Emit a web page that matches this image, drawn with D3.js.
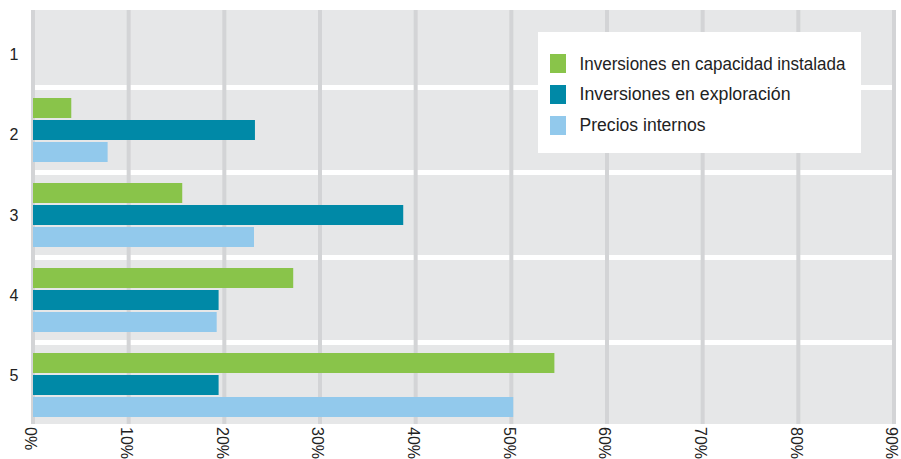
<!DOCTYPE html>
<html>
<head>
<meta charset="utf-8">
<script src="https://cdn.jsdelivr.net/npm/d3@7"></script>
<style>
  html, body { margin: 0; padding: 0; background: #ffffff; }
  svg { display: block; font-family: "Liberation Sans", Arial, Helvetica, sans-serif; }
</style>
</head>
<body>
<svg id="chart" width="901" height="459"></svg>
<script>
// ---- data ----
const categories = ["1", "2", "3", "4", "5"];
const seriesNames = ["Inversiones en capacidad instalada", "Inversiones en exploración", "Precios internos"];
const seriesColors = ["#89c44a", "#0089a7", "#92c9ec"];
const capacidadInstalada = [0, 4.0, 15.6, 27.2, 54.5];
const exploracion = [0, 23.2, 38.7, 19.4, 19.4];
const preciosInternos = [0, 7.8, 23.1, 19.2, 50.2];
const xTicks = [0, 10, 20, 30, 40, 50, 60, 70, 80, 90];
const xTickLabels = ["0%", "10%", "20%", "30%", "40%", "50%", "60%", "70%", "80%", "90%"];

const seriesValues = [capacidadInstalada, exploracion, preciosInternos];

const svg = d3.select("#chart");

const x = d3.scaleLinear().domain([0, 90]).range([33, 894]);
const y = d3.scaleBand().domain(categories).range([2.5, 427.5]).padding(0);
const yInner = d3.scaleBand().domain(d3.range(seriesNames.length)).range([10.5, 74.5]).paddingInner(0.0909).paddingOuter(0);
const yLabel = d3.scaleBand().domain(categories).range([14, 416]).padding(0);

const plotTop = 10, plotBottom = 424;

// background
svg.append("rect")
  .attr("x", x(0) - 2).attr("y", plotTop)
  .attr("width", x(90) - x(0) + 4).attr("height", plotBottom - plotTop)
  .attr("fill", "#e6e7e8");

// white separators between categories
svg.append("g").selectAll("rect")
  .data(categories.slice(1))
  .join("rect")
  .attr("x", x(0) + 2)
  .attr("y", d => y(d) - 2.5)
  .attr("width", x(90) - x(0) - 4)
  .attr("height", 5)
  .attr("fill", "#ffffff");

// vertical gridlines
svg.append("g").selectAll("line")
  .data(xTicks)
  .join("line")
  .attr("x1", d => x(d)).attr("x2", d => x(d))
  .attr("y1", plotTop).attr("y2", plotBottom)
  .attr("stroke", "#d3d4d6")
  .attr("stroke-width", 4);

// bars
const groups = svg.append("g").selectAll("g")
  .data(categories)
  .join("g")
  .attr("transform", d => `translate(0,${y(d)})`);

groups.selectAll("rect")
  .data((d, i) => seriesValues.map((vals, s) => ({ s, v: vals[i] })))
  .join("rect")
  .attr("x", x(0))
  .attr("y", d => yInner(d.s))
  .attr("width", d => x(d.v) - x(0))
  .attr("height", yInner.bandwidth())
  .attr("fill", d => seriesColors[d.s]);

// y labels
svg.append("g").selectAll("text")
  .data(categories)
  .join("text")
  .attr("x", 14)
  .attr("y", d => yLabel(d) + yLabel.bandwidth() / 2)
  .attr("dy", "0.35em")
  .attr("text-anchor", "middle")
  .attr("font-size", 16)
  .attr("fill", "#222")
  .text(d => d);

// x labels (rotated)
svg.append("g").selectAll("text")
  .data(xTicks)
  .join("text")
  .attr("transform", d => `translate(${x(d) - 2},427) rotate(90)`)
  .attr("dy", "0.35em")
  .attr("text-anchor", "start")
  .attr("font-size", 16)
  .attr("fill", "#222")
  .text((d, i) => xTickLabels[i]);

// legend
const legend = svg.append("g");
legend.append("rect")
  .attr("x", 538).attr("y", 32)
  .attr("width", 323).attr("height", 121)
  .attr("fill", "#ffffff");

const items = legend.selectAll("g.item")
  .data(seriesNames)
  .join("g")
  .attr("class", "item");

items.append("rect")
  .attr("x", 550)
  .attr("y", (d, i) => 54 + i * 31)
  .attr("width", 16).attr("height", 19)
  .attr("fill", (d, i) => seriesColors[i]);

const legendWidths = [266, 211, 126];
items.append("text")
  .attr("x", 579.5)
  .attr("y", (d, i) => 69.5 + i * 30.5)
  .attr("font-size", 17.5)
  .attr("fill", "#222")
  .attr("textLength", (d, i) => legendWidths[i])
  .attr("lengthAdjust", "spacingAndGlyphs")
  .text(d => d);
</script>
</body>
</html>
